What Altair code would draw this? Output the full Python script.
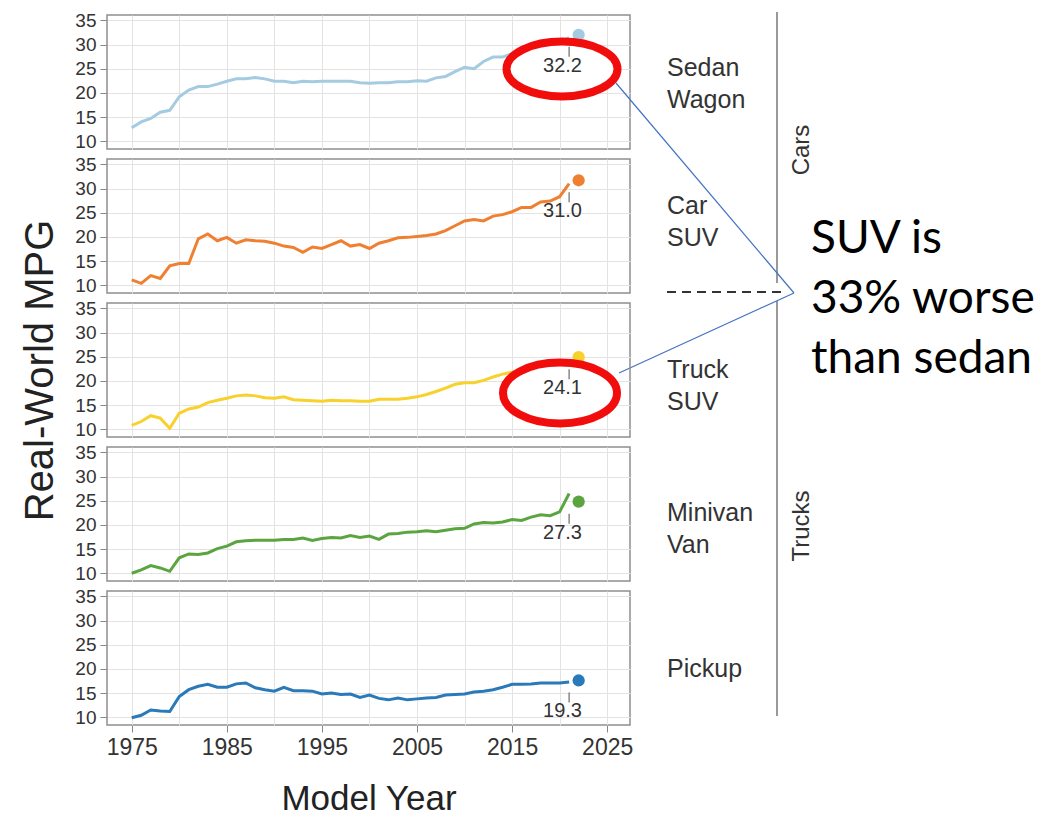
import altair as alt
import pandas as pd

# ---------------- data ----------------
years = list(range(1975, 2022))

sedan_wagon = [12.8, 14.0, 14.7, 16.0, 16.4, 19.2, 20.6, 21.3, 21.3, 21.8,
               22.4, 22.9, 22.9, 23.2, 22.9, 22.4, 22.4, 22.1, 22.4, 22.3,
               22.4, 22.4, 22.4, 22.4, 22.1, 22.0, 22.1, 22.1, 22.3, 22.3,
               22.5, 22.4, 23.1, 23.4, 24.4, 25.3, 25.0, 26.5, 27.4, 27.4,
               28.1, 28.4, 28.9, 29.5, 30.0, 30.6, 31.4]
car_suv = [11.1, 10.4, 12.0, 11.4, 14.0, 14.5, 14.5, 19.6, 20.6, 19.2,
           19.9, 18.7, 19.4, 19.2, 19.1, 18.7, 18.1, 17.8, 16.8, 17.9,
           17.6, 18.4, 19.2, 18.1, 18.4, 17.6, 18.7, 19.2, 19.8, 19.9,
           20.1, 20.3, 20.6, 21.3, 22.3, 23.3, 23.6, 23.3, 24.3, 24.6,
           25.2, 26.1, 26.1, 27.2, 27.4, 28.3, 31.0]
truck_suv = [10.8, 11.6, 12.8, 12.3, 10.2, 13.3, 14.2, 14.6, 15.5, 16.0,
             16.4, 16.9, 17.1, 16.9, 16.5, 16.4, 16.7, 16.1, 16.0, 15.9,
             15.8, 16.0, 15.9, 15.9, 15.8, 15.8, 16.2, 16.2, 16.2, 16.4,
             16.7, 17.2, 17.8, 18.5, 19.3, 19.6, 19.6, 20.1, 20.8, 21.4,
             21.8, 22.1, 22.4, 22.7, 23.0, 23.5, 24.1]
minivan_van = [10.0, 10.7, 11.6, 11.1, 10.4, 13.2, 14.0, 13.9, 14.2, 15.1,
               15.6, 16.5, 16.7, 16.8, 16.8, 16.8, 17.0, 17.0, 17.3, 16.8,
               17.2, 17.4, 17.3, 17.8, 17.4, 17.7, 17.0, 18.1, 18.2, 18.5,
               18.6, 18.8, 18.6, 18.9, 19.2, 19.3, 20.2, 20.5, 20.4, 20.6,
               21.1, 20.9, 21.6, 22.1, 21.9, 22.7, 26.5]
pickup = [9.9, 10.4, 11.5, 11.3, 11.2, 14.3, 15.7, 16.4, 16.8, 16.2,
          16.2, 16.9, 17.1, 16.1, 15.7, 15.4, 16.2, 15.5, 15.5, 15.4,
          14.8, 15.0, 14.7, 14.8, 14.1, 14.6, 13.9, 13.6, 14.0, 13.6,
          13.8, 14.0, 14.1, 14.6, 14.7, 14.8, 15.2, 15.4, 15.7, 16.2,
          16.8, 16.8, 16.9, 17.1, 17.1, 17.1, 17.3]

series = [sedan_wagon, car_suv, truck_suv, minivan_van, pickup]
row_names = ["Sedan\nWagon", "Car\nSUV", "Truck\nSUV", "Minivan\nVan", "Pickup"]
colors = ["#a4cbe1", "#ef8031", "#f8d12c", "#5ba541", "#2a79b8"]

point_year = 2022
point_values = [32.0, 31.7, 24.9, 24.8, 17.6]
label_texts = ["32.2", "31.0", "24.1", "27.3", "19.3"]
label_tick_year = 2021
label_year = 2020.3

x_grid = [1975, 1980, 1985, 1990, 1995, 2000, 2005, 2010, 2015, 2020, 2025]
y_ticks = [10, 15, 20, 25, 30, 35]

group_names = ["Cars", "Trucks"]
note_text = "SUV is\n33% worse\nthan sedan"

# ---------------- layout ----------------
W, H = 523, 134
row_label_y = [53, 47, 67, 66, 78]
AXIS_FONT = "Liberation Sans"

one = pd.DataFrame({"a": [0]})


def panel(i):
    df = pd.DataFrame({"year": years, "mpg": series[i]})
    pt = pd.DataFrame({"year": [point_year], "mpg": [point_values[i]],
                       "label": [label_texts[i]], "tyear": [label_tick_year],
                       "lyear": [label_year]})
    xs = alt.Scale(domain=[1972.4, 2027.4], nice=False, zero=False)
    ys = alt.Scale(domain=[8.4, 36.1], nice=False, zero=False)
    last = i == 4
    if last:
        xaxis = alt.Axis(values=x_grid, format="d", title="Model Year",
                         labelExpr="datum.value % 10 === 5 ? datum.label : ''",
                         labelOverlap=False, labelFlush=False,
                         tickOpacity={"condition": {"test": "datum.value % 10 === 5", "value": 1}, "value": 0},
                         domain=False, tickSize=7, labelPadding=4,
                         labelFontSize=23, titleFontSize=35, titlePadding=22)
    else:
        xaxis = alt.Axis(values=x_grid, labels=False, ticks=False, domain=False, title=None)
    if i == 2:
        yaxis = alt.Axis(values=y_ticks, domain=False, title="Real-World MPG",
                         labelOverlap=False, labelFlush=False,
                         titleFontSize=40, titlePadding=14)
    else:
        yaxis = alt.Axis(values=y_ticks, domain=False, title=None,
                         labelOverlap=False, labelFlush=False)

    X = alt.X("year:Q", scale=xs, axis=xaxis)
    Y = alt.Y("mpg:Q", scale=ys, axis=yaxis)

    line = alt.Chart(df).mark_line(color=colors[i], strokeWidth=3).encode(x=X, y=Y)
    dot = alt.Chart(pt).mark_circle(size=150, color=colors[i], opacity=1).encode(x=X, y=Y)
    tick = alt.Chart(pt).mark_tick(orient="vertical", size=10, thickness=1.5,
                                   color="#555", yOffset=17).encode(
        x=alt.X("tyear:Q", scale=xs, axis=xaxis), y=Y)
    lab = alt.Chart(pt).mark_text(fontSize=20, dy=31, color="#333", font=AXIS_FONT).encode(
        x=alt.X("lyear:Q", scale=xs, axis=xaxis), y=Y, text="label:N")
    rowlab = alt.Chart(one).mark_text(align="left", baseline="middle", lineBreak="\n",
                                      fontSize=25, lineHeight=32, color="#333",
                                      font=AXIS_FONT).encode(
        x=alt.value(560), y=alt.value(row_label_y[i]), text=alt.value(row_names[i]))

    layers = [line, dot]
    if i == 0:
        layers.append(alt.Chart(one).mark_point(
            shape="M -1 0 A 1 0.495 0 1 1 1 0 A 1 0.495 0 1 1 -1 0 Z",
            size=12321, fill="white", fillOpacity=1, stroke="#f20d0d",
            strokeWidth=8, opacity=1).encode(x=alt.value(455), y=alt.value(54)))
    if i == 2:
        layers.append(alt.Chart(one).mark_point(
            shape="M -1 0 A 1 0.535 0 1 1 1 0 A 1 0.535 0 1 1 -1 0 Z",
            size=12996, fill="white", fillOpacity=1, stroke="#f20d0d",
            strokeWidth=8, opacity=1).encode(x=alt.value(453), y=alt.value(90)))
    layers += [tick, lab, rowlab]

    if i == 0:
        vline1 = alt.Chart(one).mark_rule(color="#999", strokeWidth=2).encode(
            x=alt.value(670), y=alt.value(-3), y2=alt.value(268))
        vline2 = alt.Chart(one).mark_rule(color="#999", strokeWidth=2).encode(
            x=alt.value(670), y=alt.value(286), y2=alt.value(701))
        dash = alt.Chart(one).mark_rule(color="#333", strokeWidth=2, strokeDash=[9, 6]).encode(
            x=alt.value(560), x2=alt.value(679), y=alt.value(277))
        cars = alt.Chart(one).mark_text(angle=270, fontSize=24, color="#333", font=AXIS_FONT,
                                        align="center", baseline="middle").encode(
            x=alt.value(695), y=alt.value(135), text=alt.value(group_names[0]))
        trucks = alt.Chart(one).mark_text(angle=270, fontSize=24, color="#333", font=AXIS_FONT,
                                          align="center", baseline="middle").encode(
            x=alt.value(695), y=alt.value(511), text=alt.value(group_names[1]))
        blue1 = alt.Chart(one).mark_rule(color="#4472c4", strokeWidth=1.2).encode(
            x=alt.value(509), y=alt.value(68), x2=alt.value(687), y2=alt.value(278))
        blue2 = alt.Chart(one).mark_rule(color="#4472c4", strokeWidth=1.2).encode(
            x=alt.value(687), y=alt.value(278), x2=alt.value(512), y2=alt.value(358))
        note = alt.Chart(one).mark_text(align="left", baseline="alphabetic", lineBreak="\n",
                                        fontSize=46, lineHeight=60, font="Lato",
                                        color="#000").encode(
            x=alt.value(704), y=alt.value(238), text=alt.value(note_text))
        layers += [vline1, vline2, dash, cars, trucks, blue1, blue2, note]

    return alt.layer(*layers).properties(width=W, height=H)


chart = alt.vconcat(*[panel(i) for i in range(5)], spacing=10, bounds="flush").properties(
    padding={"left": 12, "top": 2, "right": 5, "bottom": 5}
).configure_view(
    stroke="#8f8f8f", strokeWidth=1.5
).configure_axis(
    gridColor="#e3e3e3", gridWidth=1, tickColor="#888", tickSize=7, labelPadding=4,
    labelFont=AXIS_FONT, titleFont=AXIS_FONT, labelColor="#333", titleColor="#222",
    labelFontSize=19, titleFontWeight="normal"
)

chart.save("out.html", embed_options={"renderer": "svg", "actions": False})
